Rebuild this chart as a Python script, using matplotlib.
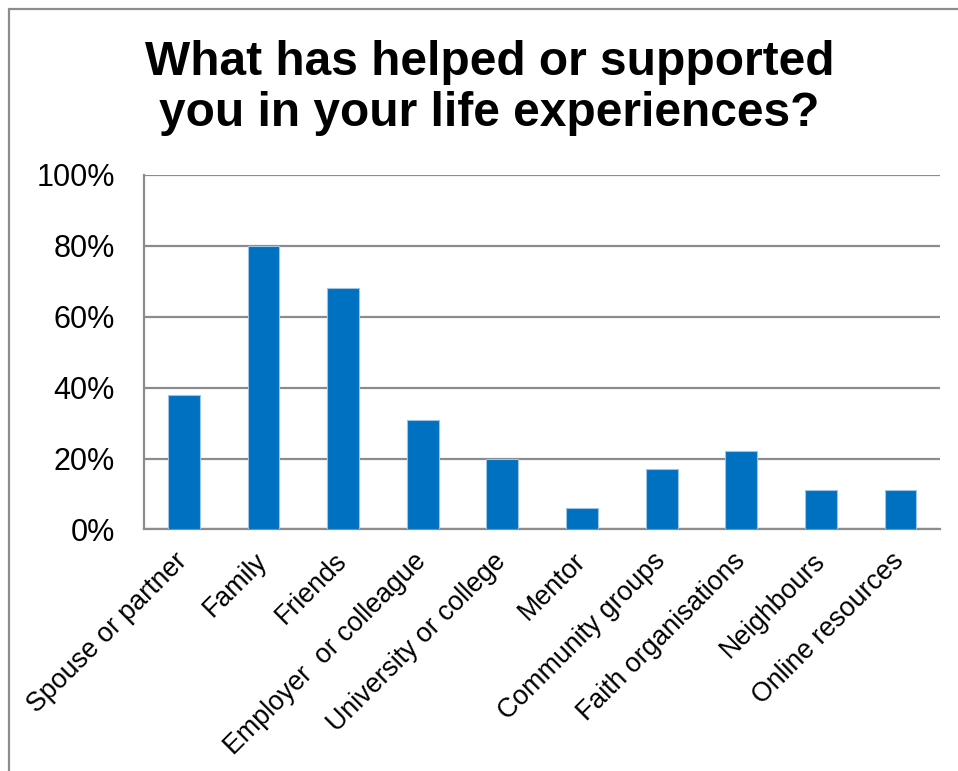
import matplotlib.pyplot as plt
from matplotlib.patches import Rectangle
from matplotlib.ticker import PercentFormatter
import numpy as np

# Survey answers: share of respondents naming each source of support
categories = ["Spouse or partner", "Family", "Friends", "Employer  or colleague",
              "University or college", "Mentor", "Community groups",
              "Faith organisations", "Neighbours", "Online resources"]
values = [38, 80, 68, 31, 20, 6, 17, 22, 11, 11]
y_ticks = [0, 20, 40, 60, 80, 100]

plt.rcParams['font.family'] = ['Liberation Sans', 'DejaVu Sans']

fig = plt.figure(figsize=(9.58, 7.71), dpi=100)
ax = fig.add_axes([0.1503, 0.3133, 0.8312, 0.4598])

# outer chart border
fig.patches.append(Rectangle((9 / 958, -0.05), 1.1, 1 - 9 / 771 + 0.05,
                             transform=fig.transFigure, fill=False,
                             edgecolor='#8c8c8c', linewidth=1.6))

x = np.arange(len(categories))
ax.bar(x, values, width=0.4, color='#0070C0', edgecolor='#9dc3e6',
       linewidth=0.8, zorder=3)

ax.set_xlim(-0.5, len(categories) - 0.5)
ax.set_ylim(0, 100)
ax.set_yticks(y_ticks)
ax.yaxis.set_major_formatter(PercentFormatter(decimals=0))
ax.grid(axis='y', color='#8c8c8c', linewidth=1.6, zorder=0)
ax.set_axisbelow(True)

for side in ['top', 'right']:
    ax.spines[side].set_visible(False)
for side in ['left', 'bottom']:
    ax.spines[side].set_color('#8c8c8c')
    ax.spines[side].set_linewidth(1.6)

ax.tick_params(axis='both', length=0)
ax.tick_params(axis='y', labelsize=22, pad=21)
ax.set_xticks(x)
ax.set_xticklabels(categories, rotation=45, ha='right', va='center',
                   rotation_mode='anchor', fontsize=19.3)
ax.tick_params(axis='x', pad=20)

fig.text(0.511, 0.886, "What has helped or supported\nyou in your life experiences?",
         ha='center', va='center', fontsize=34.5, fontweight='bold',
         linespacing=1.15)

fig.savefig('out.png', dpi=100)
